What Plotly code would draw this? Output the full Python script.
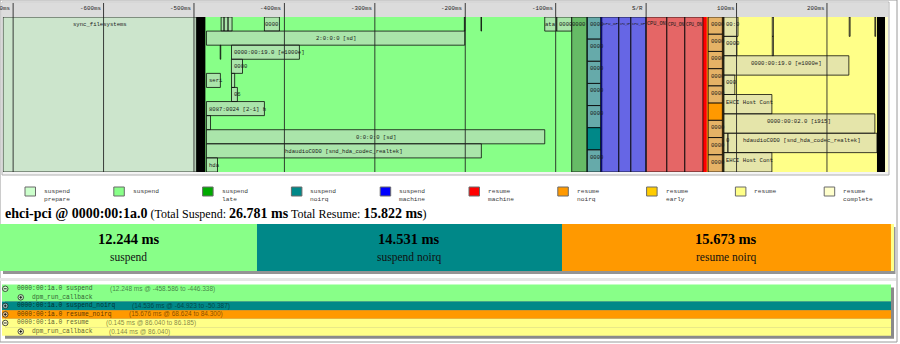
import plotly.graph_objects as go

W, H = 900, 344

# ---------------- timeline (ms relative to the suspend/resume point) ----------------
TICK_MS = [-700, -600, -500, -400, -300, -200, -100, 0, 100, 200]
TICK_LABELS = ["-700ms", "-600ms", "-500ms", "-400ms", "-300ms", "-200ms", "-100ms", "S/R", "100ms", "200ms"]
T_START, T_END = -711.2, 267.5

PHASES = ["suspend_prepare", "suspend", "suspend_late", "suspend_noirq", "suspend_machine",
          "resume_machine", "resume_noirq", "resume_early", "resume", "resume_complete"]
PHASE_COLORS = ["#CCFFCC", "#88FF88", "#00AA00", "#008888", "#0000FF",
                "#FF0000", "#FF9900", "#FFCC00", "#FFFF88", "#FFFFCC"]
PHASE_START = [-711.2, -497.4, -82.3, -65.6, -50.2, 0.0, 67.2, 85.0, 85.8, 255.3]
PHASE_END = [-497.4, -82.3, -65.6, -50.2, 0.0, 67.2, 85.0, 85.8, 255.3, 267.5]
PHASE_ROWS = [1, 11, 1, 7, 1, 1, 9, 1, 8, 1]

# clusters of very short callbacks that render as solid bars
DENSE_START = [-497.4, 255.3]
DENSE_END = [-487.4, 264.2]

# devices per phase: (row, start ms, end ms, visible label)
PREPARE_DEVICES = [(0, -711.2, -497.4, "sync_filesystems")]
SUSPEND_DEVICES = [
    (0, -470.0, -466.7, ""), (0, -466.7, -462.3, ""), (0, -462.3, -457.9, ""),
    (0, -422.1, -405.5, "0000"), (0, -201.0, -200.3, ""), (0, -182.6, -182.0, ""),
    (0, -112.1, -98.8, "ata"), (0, -98.8, -82.3, "0000"),
    (1, -486.2, -200.6, "2:0:0:0 [sd]"),
    (2, -471.0, -470.4, ""), (2, -458.5, -383.4, "0000:00:19.0 [e1000e]"),
    (3, -458.586, -446.338, "0000"),
    (4, -486.2, -470.8, "seri"), (4, -458.5, -455.0, ""),
    (5, -458.5, -452.0, "06"),
    (6, -486.2, -422.1, "8087:0024 [2-1] h"),
    (7, -486.2, -481.7, ""),
    (8, -486.2, -112.1, "0:0:0:0 [sd]"),
    (9, -486.2, -182.2, "hdaudioC0D0 [snd_hda_codec_realtek]"),
    (10, -486.2, -474.0, "hda"),
]
LATE_DEVICES = [(0, -82.3, -65.6, "0000")]
NOIRQ_DEVICES = [(r, -64.923, -50.387, "" if r == 5 else "0000") for r in range(7)]
NOIRQ_SELECTED = [5]
SMACHINE_DEVICES = [(0, -49.0, -30.2, "CPU_OF"), (0, -30.2, -16.9, "CPU_OF"), (0, -16.9, -0.2, "CPU_OF")]
RMACHINE_DEVICES = [(0, 0.0, 22.9, "CPU_ON"), (0, 22.9, 42.8, "CPU_ON"), (0, 42.8, 62.8, "CPU_ON")]
RNOIRQ_DEVICES = [(r, 68.624, 84.300, "" if r == 5 else "0000") for r in range(9)]
RNOIRQ_SELECTED = [5]
EARLY_DEVICES = [(0, 85.0, 85.8, "")]
RESUME_DEVICES = [
    (0, 86.04, 101.6, "00:0"), (0, 139.5, 140.8, ""), (0, 224.6, 225.6, ""), (0, 253.0, 253.8, ""),
    (1, 86.04, 100.4, "0000"), (1, 139.5, 140.8, ""),
    (2, 86.04, 224.2, "0000:00:19.0 [e1000e]"),
    (3, 86.04, 98.1, "000"),
    (4, 86.04, 139.1, "EHCI Host Cont"),
    (5, 86.04, 253.0, "0000:00:02.0 [i915]"),
    (6, 86.04, 90.5, "0"), (6, 90.5, 255.3, "hdaudioC0D0 [snd_hda_codec_realtek]"),
    (7, 86.04, 139.1, "EHCI Host Cont"),
]
COMPLETE_DEVICES = []

DEVICE_GROUPS = [PREPARE_DEVICES, SUSPEND_DEVICES, LATE_DEVICES, NOIRQ_DEVICES, SMACHINE_DEVICES,
                 RMACHINE_DEVICES, RNOIRQ_DEVICES, EARLY_DEVICES, RESUME_DEVICES, COMPLETE_DEVICES]
SELECTED_ROWS = {3: NOIRQ_SELECTED, 6: RNOIRQ_SELECTED}

# ---------------- selected device: ehci-pci @ 0000:00:1a.0 ----------------
DEV_TITLE = "ehci-pci @ 0000:00:1a.0"
TOTAL_SUSPEND = "26.781 ms"
TOTAL_RESUME = "15.822 ms"
DEV_PHASES = ["suspend", "suspend_noirq", "resume_noirq", "resume"]
DEV_DURATIONS = [12.244, 14.531, 15.673, 0.145]

TREE_NAMES = ["0000:00:1a.0 suspend", "dpm_run_callback", "0000:00:1a.0 suspend_noirq",
              "0000:00:1a.0 resume_noirq", "0000:00:1a.0 resume", "dpm_run_callback"]
TREE_TIMES = ["(12.248 ms @ -458.586 to -446.338)", "", "(14.536 ms @ -64.923 to -50.387)",
              "(15.676 ms @ 68.624 to 84.300)", "(0.145 ms @ 86.040 to 86.185)", "(0.144 ms @ 86.040)"]
TREE_DEPTH = [0, 1, 0, 0, 0, 1]
TREE_OPEN = [True, False, False, False, True, False]
TREE_PHASE = ["suspend", "suspend", "suspend_noirq", "resume_noirq", "resume", "resume"]

PCOL = dict(zip(PHASES, PHASE_COLORS))
MONO = "Liberation Mono"
SERIF = "Liberation Serif"


def px(x):
    return x / W


def py(y):
    return 1 - y / H


TL_TOP, TL_BOT = 17, 172
TL_H = TL_BOT - TL_TOP
MS_PER_PX = (T_END - T_START) / (888 - 3)

shapes, ann = [], []

# page frame
shapes.append(dict(type="rect", xref="paper", yref="paper", x0=px(0), x1=px(897), y0=py(342), y1=py(0),
                   fillcolor="white", line=dict(color="#9a9a9a", width=1), layer="below"))

# timeline container and header strip
shapes.append(dict(type="rect", xref="paper", yref="paper", x0=px(2), x1=px(889), y0=py(175), y1=py(2),
                   fillcolor="#f4f4f4", line=dict(color="#b0b0b0", width=1), layer="below"))
shapes.append(dict(type="rect", xref="paper", yref="paper", x0=px(2), x1=px(888), y0=py(TL_TOP), y1=py(2.5),
                   fillcolor="#dcdcdc", line=dict(width=0), layer="below"))

# phase backgrounds
for p0, p1, c in zip(PHASE_START, PHASE_END, PHASE_COLORS):
    shapes.append(dict(type="rect", xref="x", yref="y", x0=p0, x1=p1, y0=0, y1=1,
                       fillcolor=c, line=dict(width=0)))

# device boxes
for gi, group in enumerate(DEVICE_GROUPS):
    nrows = PHASE_ROWS[gi]
    sel = SELECTED_ROWS.get(gi, [])
    for row, d0, d1, label in group:
        y0, y1 = row / nrows, (row + 1) / nrows
        fill = PHASE_COLORS[gi] if row in sel else "rgba(204,204,204,0.5)"
        shapes.append(dict(type="rect", xref="x", yref="y", x0=d0, x1=d1, y0=y0, y1=y1,
                           fillcolor=fill, line=dict(color="rgba(0,0,0,0.75)", width=1)))
        if label:
            wpx = (d1 - d0) / MS_PER_PX
            fs = 5.6
            if label.startswith("CPU"):
                fs = min(5.6, (wpx - 2) / (0.6 * len(label)))
            tw = len(label) * 0.6 * fs
            ly = y0 + 7.5 / TL_H
            if tw <= wpx - 1.5:
                ann.append(dict(x=(d0 + d1) / 2, y=ly, xref="x", yref="y", text=label, showarrow=False,
                                xanchor="center", yanchor="middle",
                                font=dict(family=MONO, size=fs, color="#1a1a1a")))
            else:
                ann.append(dict(x=d0, y=ly, xref="x", yref="y", text=label, showarrow=False,
                                xanchor="left", yanchor="middle", xshift=0.5,
                                font=dict(family=MONO, size=fs, color="#1a1a1a")))

for d0, d1 in zip(DENSE_START, DENSE_END):
    shapes.append(dict(type="rect", xref="x", yref="y", x0=d0, x1=d1, y0=0, y1=1,
                       fillcolor="#000000", line=dict(width=0)))

# time grid and tick labels
for t, lab in zip(TICK_MS, TICK_LABELS):
    shapes.append(dict(type="line", xref="x", yref="paper", x0=t, x1=t, y0=py(TL_BOT), y1=py(3),
                       line=dict(color="rgba(30,30,30,0.85)", width=1)))
    ann.append(dict(x=t, y=py(8.5), xref="x", yref="paper", text=lab, showarrow=False,
                    xanchor="right", yanchor="middle", xshift=-1,
                    font=dict(family=MONO, size=5.8, color="#222")))

# phase legend
for i, (name, col) in enumerate(zip(PHASES, PHASE_COLORS)):
    lx = 25 + i * 88.8
    shapes.append(dict(type="rect", xref="paper", yref="paper", x0=px(lx), x1=px(lx + 10.5),
                       y0=py(196), y1=py(187), fillcolor=col, line=dict(color="#6a6a6a", width=1)))
    ann.append(dict(x=px(lx + 17), y=py(186), xref="paper", yref="paper",
                    text=name.replace("_", "<br>"), showarrow=False, xanchor="left", yanchor="top",
                    align="left", font=dict(family=MONO, size=6.2, color="#3a3a3a")))

# device title line
ann.append(dict(x=px(3), y=py(213.5), xref="paper", yref="paper", showarrow=False,
                xanchor="left", yanchor="middle",
                text=(f"<b>{DEV_TITLE}</b><span style='font-size:12px'> (Total Suspend: </span>"
                      f"<b>{TOTAL_SUSPEND}</b><span style='font-size:12px'> Total Resume: </span>"
                      f"<b>{TOTAL_RESUME}</b><span style='font-size:12px'>)</span>"),
                font=dict(family=SERIF, size=14, color="#000")))

# phase bar shadow
shapes.append(dict(type="rect", xref="paper", yref="paper", x0=px(3), x1=px(895.5), y0=py(274), y1=py(227),
                   fillcolor="rgba(60,60,60,0.55)", line=dict(width=0), layer="below"))

dev_base = []
acc = 0.0
for d in DEV_DURATIONS:
    dev_base.append(acc)
    acc += d
dev_total = acc

for ph, b, d in zip(DEV_PHASES, dev_base, DEV_DURATIONS):
    if d / dev_total * 894 < 40:
        continue
    mid = b + d / 2
    ann.append(dict(x=mid, y=py(239), xref="x2", yref="paper", text=f"<b>{d:.3f} ms</b>", showarrow=False,
                    xanchor="center", yanchor="middle", font=dict(family=SERIF, size=14.5, color="#000")))
    ann.append(dict(x=mid, y=py(257.5), xref="x2", yref="paper", text=ph.replace("_", " "), showarrow=False,
                    xanchor="center", yanchor="middle", font=dict(family=SERIF, size=11.5, color="#111")))

# callgraph list
shapes.append(dict(type="rect", xref="paper", yref="paper", x0=px(0), x1=px(896), y0=py(281), y1=py(278),
                   fillcolor="#e6e6e6", line=dict(width=0), layer="below"))
TREE_TOP, LINE_H = 284.5, 8.55
shapes.append(dict(type="rect", xref="paper", yref="paper", x0=px(5), x1=px(894),
                   y0=py(TREE_TOP + 6 * LINE_H + 3), y1=py(TREE_TOP + 3),
                   fillcolor="rgba(60,60,60,0.6)", line=dict(width=0), layer="below"))
for i, (name, times, depth, is_open, ph) in enumerate(zip(TREE_NAMES, TREE_TIMES, TREE_DEPTH, TREE_OPEN, TREE_PHASE)):
    y0 = TREE_TOP + i * LINE_H
    yc = y0 + LINE_H / 2
    shapes.append(dict(type="rect", xref="paper", yref="paper", x0=px(2), x1=px(891), y0=py(y0 + LINE_H), y1=py(y0),
                       fillcolor=PCOL[ph], line=dict(width=0), layer="below"))
    ix = 2.5 + depth * 15.5
    shapes.append(dict(type="circle", xref="paper", yref="paper", x0=px(ix), x1=px(ix + 5.5),
                       y0=py(yc + 2.75), y1=py(yc - 2.75), fillcolor="rgba(255,255,255,0.6)",
                       line=dict(color="#222", width=0.8)))
    shapes.append(dict(type="line", xref="paper", yref="paper", x0=px(ix + 1.3), x1=px(ix + 4.2),
                       y0=py(yc), y1=py(yc), line=dict(color="#111", width=0.9)))
    if not is_open:
        shapes.append(dict(type="line", xref="paper", yref="paper", x0=px(ix + 2.75), x1=px(ix + 2.75),
                           y0=py(yc - 1.5), y1=py(yc + 1.5), line=dict(color="#111", width=0.9)))
    tx = 15 + depth * 15
    ann.append(dict(x=px(tx), y=py(yc), xref="paper", yref="paper", text=name, showarrow=False,
                    xanchor="left", yanchor="middle",
                    font=dict(family=MONO, size=6.3, color="rgba(0,0,0,0.68)")))
    if times:
        ann.append(dict(x=px(tx + len(name) * 3.78 + 17), y=py(yc), xref="paper", yref="paper", text=times,
                        showarrow=False, xanchor="left", yanchor="middle",
                        font=dict(family="Liberation Sans", size=6.5, color="rgba(0,0,0,0.52)")))

fig = go.Figure()
fig.add_trace(go.Scatter(x=[T_START, T_END], y=[0, 1], mode="markers", marker=dict(opacity=0),
                         hoverinfo="skip", showlegend=False, xaxis="x", yaxis="y"))
fig.add_trace(go.Bar(y=[0] * len(DEV_DURATIONS), x=DEV_DURATIONS, base=dev_base, orientation="h",
                     width=1, marker=dict(color=[PCOL[p] for p in DEV_PHASES], line=dict(width=0)),
                     hoverinfo="skip", showlegend=False, xaxis="x2", yaxis="y2"))

fig.update_layout(
    width=W, height=H, margin=dict(l=0, r=0, t=0, b=0),
    paper_bgcolor="white", plot_bgcolor="rgba(0,0,0,0)",
    showlegend=False,
    xaxis=dict(domain=[px(3), px(888)], range=[T_START, T_END], visible=False, fixedrange=True),
    yaxis=dict(domain=[py(TL_BOT), py(TL_TOP)], range=[1, 0], visible=False, fixedrange=True),
    xaxis2=dict(domain=[0, px(894)], range=[0, dev_total], visible=False, anchor="y2", fixedrange=True),
    yaxis2=dict(domain=[py(271), py(224)], range=[-0.5, 0.5], visible=False, anchor="x2", fixedrange=True),
    shapes=shapes, annotations=ann,
)

fig.write_html("out.html")
